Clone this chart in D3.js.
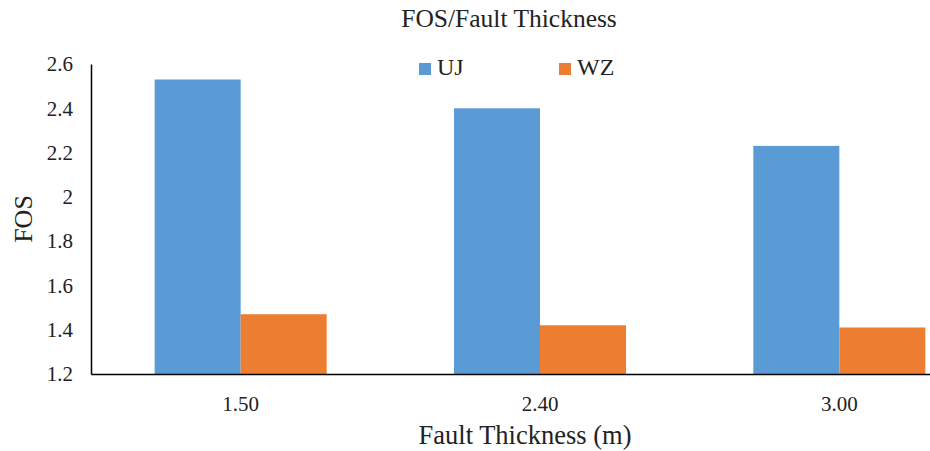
<!DOCTYPE html>
<html>
<head>
<meta charset="utf-8">
<script src="https://cdn.jsdelivr.net/npm/d3@7"></script>
<style>
  html, body { margin: 0; padding: 0; background: #fff; }
  svg { display: block; }
  svg text { font-family: "Liberation Serif", "Times New Roman", Times, serif; }
</style>
</head>
<body>
<svg id="chart" width="930" height="451"></svg>
<script>
// Fault thickness categories (m)
const categories = ["1.50", "2.40", "3.00"];
// Series names and their FOS values per category
const seriesNames = ["UJ", "WZ"];
const ujValues = [2.53, 2.40, 2.23];
const wzValues = [1.47, 1.42, 1.41];
const yTicks = [1.2, 1.4, 1.6, 1.8, 2, 2.2, 2.4, 2.6];
const colors = ["#5B9BD5", "#ED7D31"];
const serif = "'Liberation Serif', 'Times New Roman', Times, serif";

const rows = categories.map((c, i) => ({ cat: c, values: [ujValues[i], wzValues[i]] }));

const svg = d3.select("#chart");
const plotLeft = 91, plotRight = 989, plotTop = 64, plotBottom = 374;

const x0 = d3.scaleBand().domain(categories).range([plotLeft, plotRight]).padding(0);
const x1 = d3.scaleBand().domain(seriesNames).range([0, x0.bandwidth()])
  .paddingInner(0).paddingOuter(0.74);
const y = d3.scaleLinear().domain([1.2, 2.6]).range([plotBottom, plotTop]);

// Bars
const groups = svg.append("g").selectAll("g").data(rows).join("g")
  .attr("transform", d => `translate(${x0(d.cat)},0)`);
groups.selectAll("rect")
  .data(d => d.values.map((v, j) => ({ name: seriesNames[j], v, j })))
  .join("rect")
  .attr("x", d => x1(d.name))
  .attr("width", x1.bandwidth())
  .attr("y", d => y(d.v))
  .attr("height", d => y(1.2) - y(d.v))
  .attr("fill", d => colors[d.j]);

// Y axis
const yAxis = svg.append("g").attr("transform", `translate(${plotLeft},0)`)
  .call(d3.axisLeft(y).tickValues(yTicks).tickSize(0).tickPadding(18)
    .tickFormat(d => d3.format("")(+d.toFixed(1))));
yAxis.attr("font-family", serif);
yAxis.select(".domain").attr("stroke", "#000").attr("stroke-width", 1.5);
yAxis.selectAll("text").attr("font-size", 21).attr("fill", "#222")
  .style("font-family", serif);

// X axis
const xAxis = svg.append("g").attr("transform", `translate(0,${plotBottom})`)
  .call(d3.axisBottom(x0).tickSize(0).tickPadding(22));
xAxis.attr("font-family", serif);
xAxis.select(".domain").attr("stroke", "#000").attr("stroke-width", 1.5);
xAxis.selectAll("text").attr("font-size", 21).attr("fill", "#222")
  .style("font-family", serif);

// Titles
svg.append("text").attr("x", 509).attr("y", 27).attr("text-anchor", "middle")
  .style("font-family", serif)
  .attr("font-size", 25.5).attr("fill", "#222").text("FOS/Fault Thickness");
svg.append("text").attr("x", 525).attr("y", 444).attr("text-anchor", "middle")
  .style("font-family", serif)
  .attr("font-size", 26.5).attr("fill", "#222").text("Fault Thickness (m)");
svg.append("text").attr("transform", "translate(32,219) rotate(-90)")
  .style("font-family", serif)
  .attr("text-anchor", "middle").attr("font-size", 26).attr("fill", "#222").text("FOS");

// Legend
const legendX = [419, 559];
const legend = svg.append("g").selectAll("g").data(seriesNames).join("g")
  .attr("transform", (d, i) => `translate(${legendX[i]},63)`);
legend.append("rect").attr("width", 12).attr("height", 12)
  .attr("fill", (d, i) => colors[i]);
legend.append("text").attr("x", 18).attr("y", 12).attr("font-size", 24)
  .style("font-family", serif)
  .attr("fill", "#222").text(d => d);
</script>
</body>
</html>
